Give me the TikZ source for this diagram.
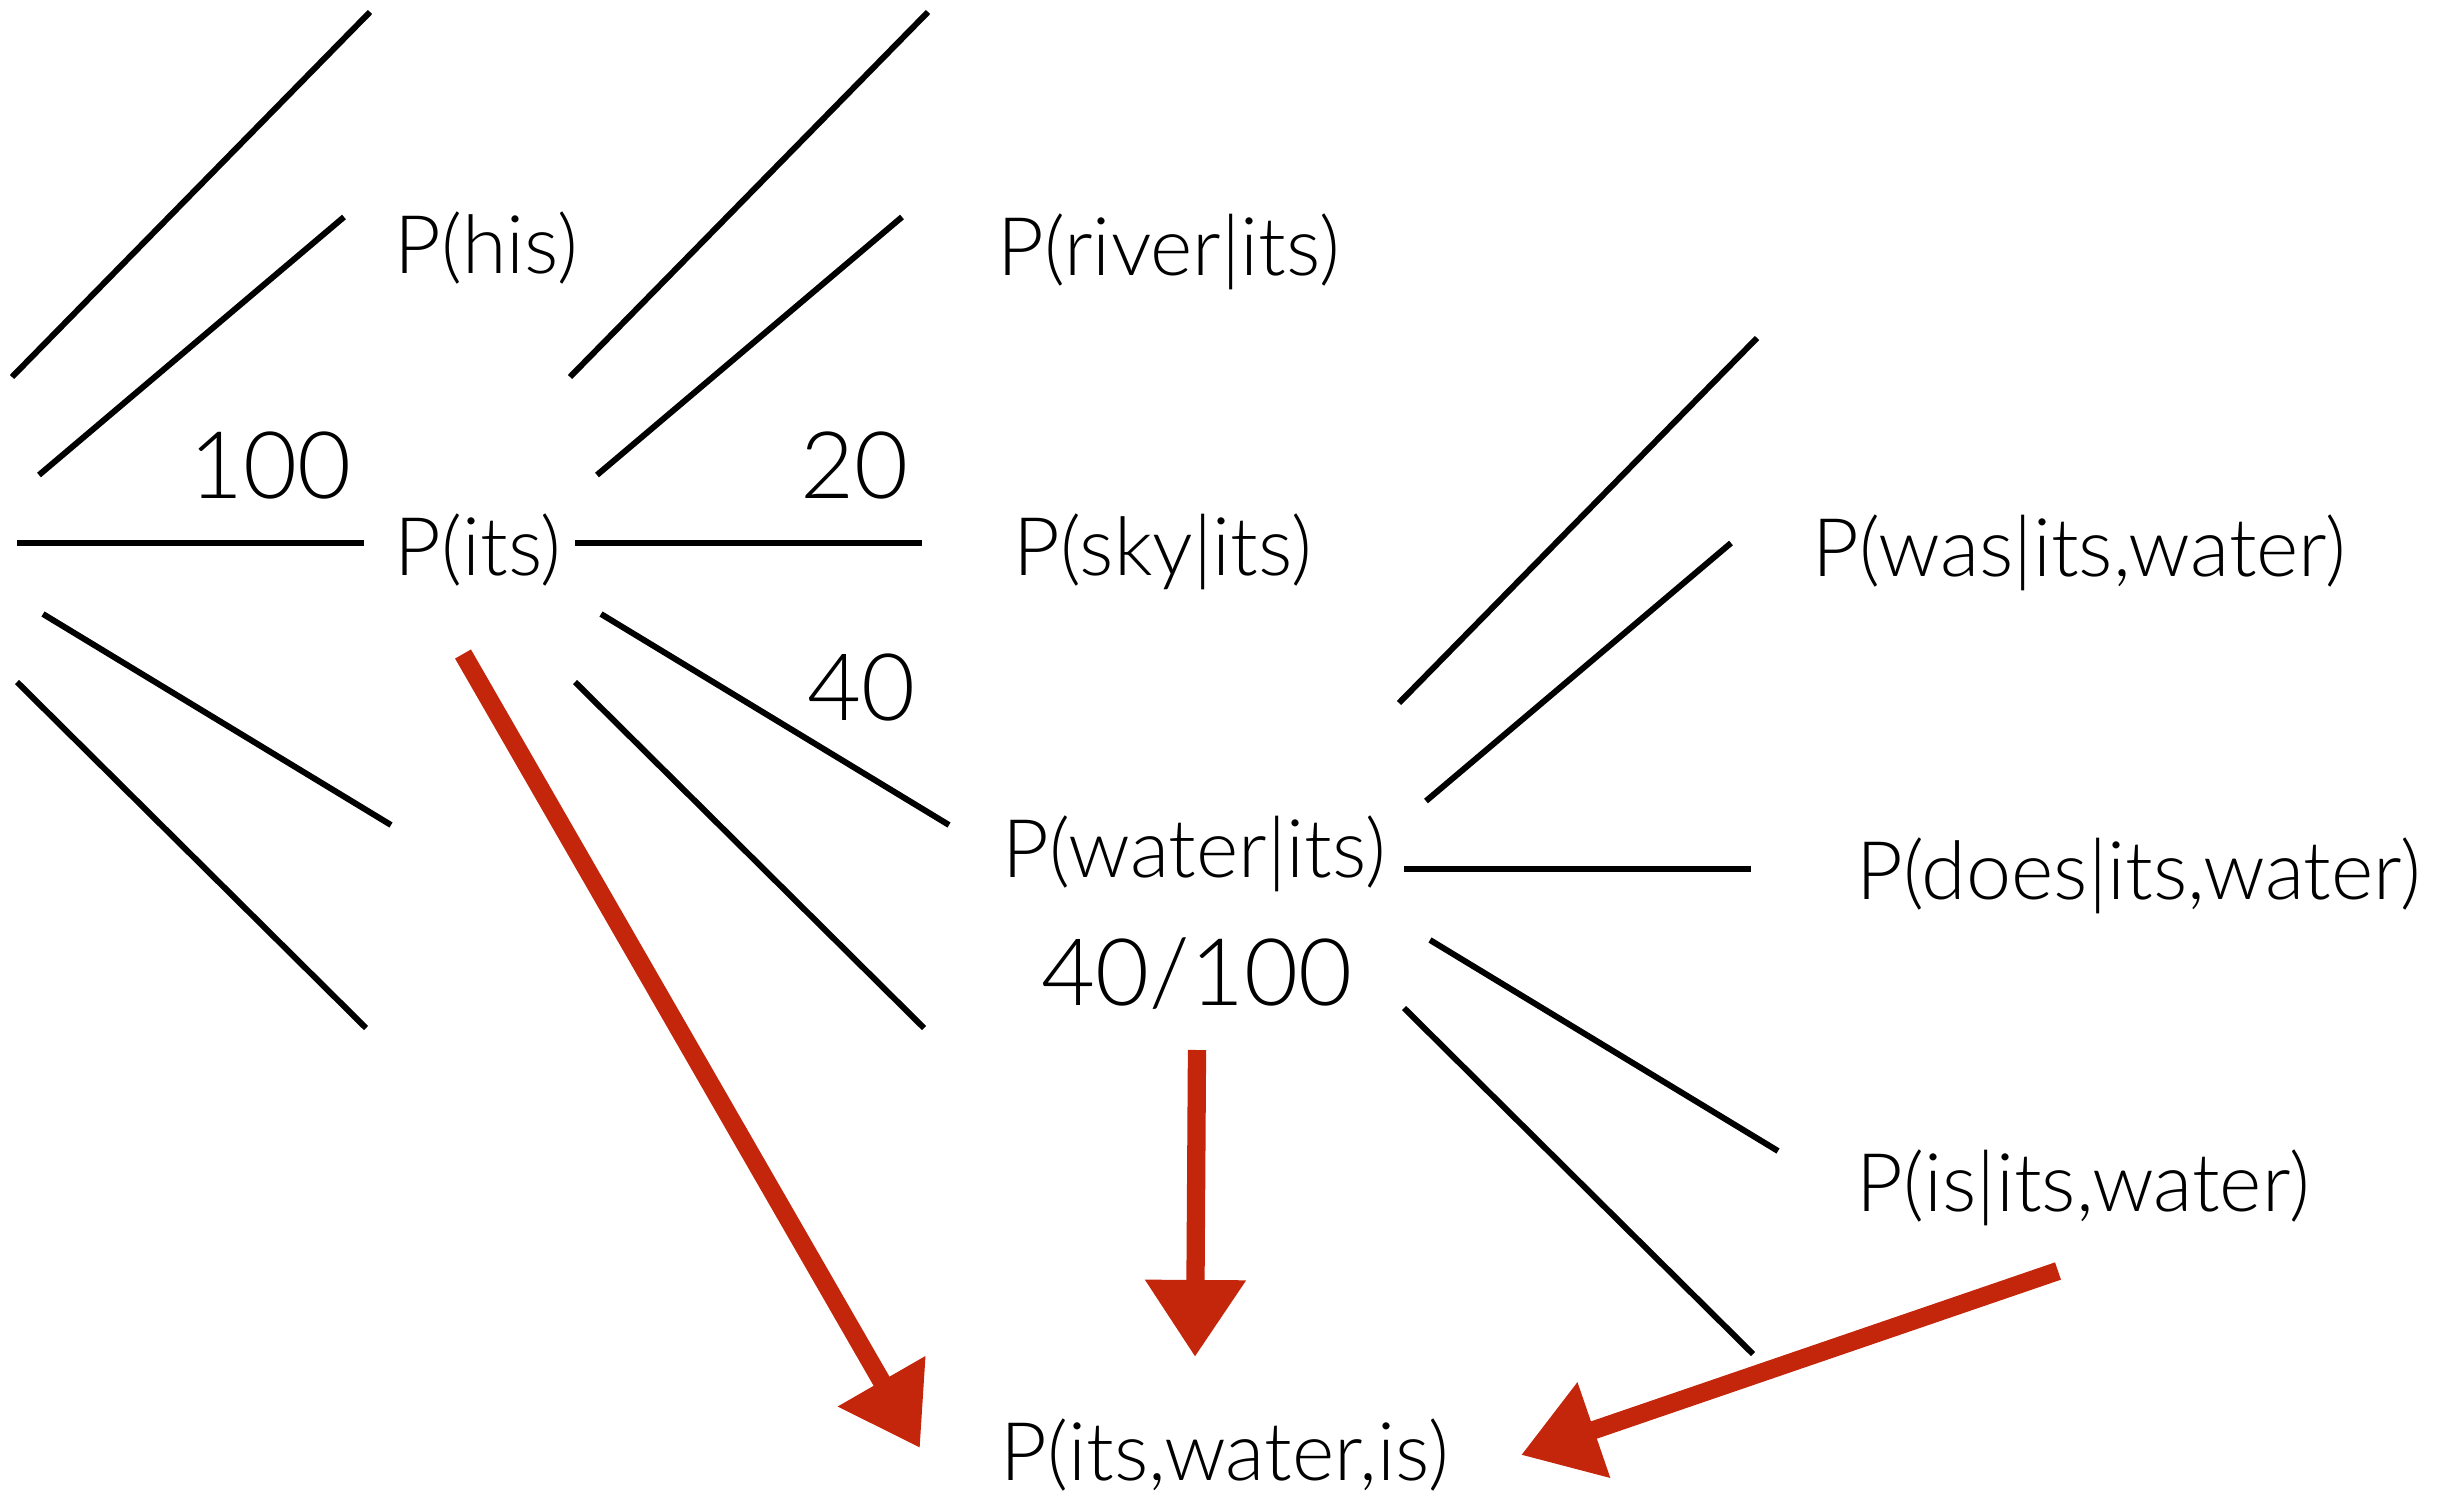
\documentclass[tikz,border=0pt]{standalone}
\usepackage{fontspec}
\setmainfont{Lato Light}
\usetikzlibrary{arrows.meta,calc}

\definecolor{pencil}{RGB}{196,38,12}

\tikzset{
  branch/.style={line width=1.7pt},
  prob/.style={inner sep=0pt, anchor=base west, font=\fontsize{23}{28}\selectfont},
  countlbl/.style={inner sep=0pt, anchor=base east, font=\fontsize{26.5}{32}\selectfont},
  pen/.style={draw=pencil, line width=5.2pt, -{Triangle[length=0.77cm,width=0.96cm]}}
}

% five branches leaving one history
\newcommand{\fan}{%
  \foreach \xa/\ya/\xb/\yb in {12/377/370/12, 39/475/344/217, 17/543/364/543,
                               43/614/391/825, 17/682/366/1028}
    \draw[branch] (\xa,\ya) -- (\xb,\yb);
}

\begin{document}
\begin{tikzpicture}[x=0.01cm, y=-0.01cm]
    \useasboundingbox (0,0) rectangle (2454,1494);

    % first word
    \fan
    \node[prob] (his) at (394,274) {P(his)};
    \node[prob] (its) at (394,575) {P(its)};
    \node[countlbl] (n100) at (352,498) {100};

    % second word, given its
    \begin{scope}[shift={(558,0)}]
        \fan
    \end{scope}
    \node[prob] (river) at (997,275) {P(river|its)};
    \node[prob] (sky) at (1013,575) {P(sky|its)};
    \node[prob] (water) at (1002,877) {P(water|its)};
    \node[countlbl] (n20) at (909,498) {20};
    \node[countlbl] (n40) at (916,720) {40};
    \node[countlbl, anchor=base west] (frac) at (1041,1005) {40/100};

    % third word, given its water
    \begin{scope}[shift={(1387,326)}]
        \fan
    \end{scope}
    \node[prob] (was) at (1812,576) {P(was|its,water)};
    \node[prob] (does) at (1856,899) {P(does|its,water)};
    \node[prob] (isw) at (1856,1211) {P(is|its,water)};

    % joint probability
    \node[prob] (joint) at (1000,1480) {P(its,water,is)};

    \draw[pen] ($(its.base west)+(69,79)$) -- ($(joint.base west)+(-80,-32)$);
    \draw[pen] ($(frac.base west)+(156,45)$) -- ($(joint.base west)+(195,-123)$);
    \draw[pen] ($(isw.base west)+(202,60)$) -- ($(joint.base west)+(521,-25)$);
\end{tikzpicture}
\end{document}
